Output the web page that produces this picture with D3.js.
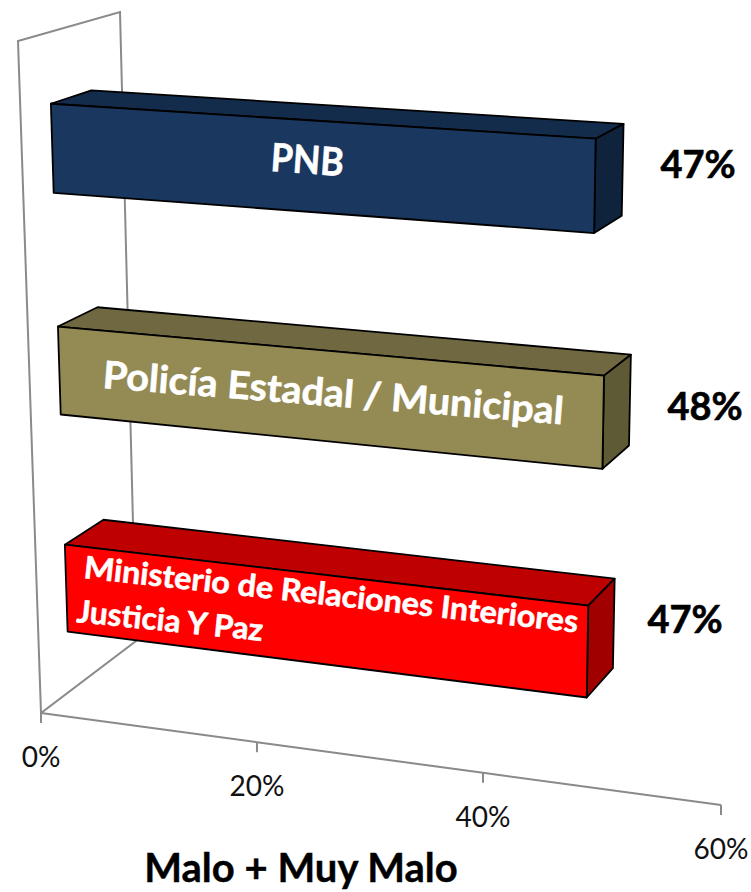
<!DOCTYPE html>
<html>
<head>
<meta charset="utf-8">
<script src="https://cdn.jsdelivr.net/npm/d3@7"></script>
<style>
html,body{margin:0;padding:0;background:#fff}
svg{display:block}
text{font-family:Lato,"Open Sans",sans-serif}
</style>
</head>
<body>
<svg id="c" width="751" height="892"></svg>
<script>
// ---- data ----
const categories = ["Ministerio de Relaciones Interiores Justicia Y Paz", "Policía Estadal / Municipal", "PNB"];
const values = [47, 48, 47];
const tickValues = [0, 20, 40, 60];
const axisTitle = "Malo + Muy Malo";

// ---- styles ----
const faceColors = [
  {front:"#ff0000", top:"#bf0000", side:"#a00000"},
  {front:"#948a54", top:"#6f6840", side:"#5f5a36"},
  {front:"#1a375f", top:"#142c4c", side:"#10233d"}
];
const labelLayout = [
  {lines:[{t:"Ministerio de Relaciones Interiores",x:83,y:578,a:6.3,w:497},{t:"Justicia Y Paz",x:76,y:622,a:5.8,w:187}],size:31},
  {lines:[{t:"Policía Estadal / Municipal",x:102,y:388,a:4.5,w:462}],size:38},
  {lines:[{t:"PNB",x:270,y:171,a:4,w:73}],size:39}
];
const valueLabelPos = [[685,633],[705,420],[698,178]];

// ---- projection: box corners of the 3D plot on screen ----
const corners = {
  fb0:[41,713], fb1:[721,805], ft0:[18,41], ft1:[740,82],
  bb0:[136,641], bb1:[777,726], bt0:[120,12], bt1:[801,49]
};
const xFrac = d3.scaleLinear().domain(tickValues).range([0,0.3176,0.65,1]);
const band = d3.scaleBand().domain(categories).range([-0.008,0.995]).paddingInner(0.6).paddingOuter(0.3);
// slight perspective compression of the vertical axis
const vWarp = d3.scaleLinear().domain([-0.008,0.4935,0.995]).range([-0.008,0.486,0.993]);
const lerp = (a,b,t)=>[a[0]+(b[0]-a[0])*t, a[1]+(b[1]-a[1])*t];
function project(val, v, w){
  const t = xFrac(val);
  const b0 = lerp(corners.fb0,corners.bb0,w), b1 = lerp(corners.fb1,corners.bb1,w);
  const t0 = lerp(corners.ft0,corners.bt0,w), t1 = lerp(corners.ft1,corners.bt1,w);
  return lerp(lerp(b0,b1,t), lerp(t0,t1,t), v);
}
const depthFront = 0.3, depthBack = 0.7;

const svg = d3.select("#c");
const path = d3.line();
const closed = pts => path(pts) + "Z";
const grey = "#8a8a8a";

// ---- wall and floor edge ----
svg.append("path")
  .attr("d", closed([project(0,0,0), project(0,1,0), project(0,1,1), project(0,0,1)]))
  .attr("fill","none").attr("stroke",grey).attr("stroke-width",2);

// ---- axis ----
const axis = svg.append("g").call(
  d3.axisBottom(xFrac).tickValues(tickValues).tickFormat(d=>d+"%").tickSize(10)
);
axis.select(".domain")
  .attr("d", path(tickValues.map(d=>project(d,0,0))))
  .attr("fill","none").attr("stroke",grey).attr("stroke-width",2);
axis.selectAll(".tick").attr("transform", d=>{const p=project(d,0,0);return `translate(${p[0]},${p[1]})`;});
axis.selectAll(".tick line").attr("stroke",grey).attr("stroke-width",2);
axis.selectAll(".tick text")
  .attr("y",54).attr("dy",0).attr("text-anchor","middle")
  .attr("fill","#111").style("font-size","28px").style("font-family","Lato,sans-serif");

// ---- bars ----
const bars = svg.append("g").selectAll("g").data(categories).join("g");
bars.each(function(cat,i){
  const g = d3.select(this), val = values[i];
  const v0 = vWarp(band(cat)), v1 = vWarp(band(cat) + band.bandwidth());
  const P = (x,v,w)=>project(x,v,w);
  const faces = [
    {pts:[P(0,v1,depthFront),P(val,v1,depthFront),P(val,v1,depthBack),P(0,v1,depthBack)],fill:faceColors[i].top},
    {pts:[P(val,v0,depthFront),P(val,v1,depthFront),P(val,v1,depthBack),P(val,v0,depthBack)],fill:faceColors[i].side},
    {pts:[P(0,v0,depthFront),P(val,v0,depthFront),P(val,v1,depthFront),P(0,v1,depthFront)],fill:faceColors[i].front}
  ];
  g.selectAll("path").data(faces).join("path")
    .attr("d",d=>closed(d.pts)).attr("fill",d=>d.fill)
    .attr("stroke","#000").attr("stroke-width",1.8).attr("stroke-linejoin","round");
  const L = labelLayout[i];
  L.lines.forEach(l=>{
    g.append("text").text(l.t)
      .attr("transform",`translate(${l.x},${l.y}) rotate(${l.a})`)
      .attr("textLength",l.w).attr("lengthAdjust","spacingAndGlyphs")
      .attr("fill","#fff").attr("stroke","#fff").attr("stroke-width",0.6)
      .attr("font-weight",700).style("font-size",L.size+"px");
  });
  g.append("text").text(val+"%")
    .attr("x",valueLabelPos[i][0]).attr("y",valueLabelPos[i][1])
    .attr("text-anchor","middle").attr("fill","#000").attr("stroke","#000").attr("stroke-width",0.6)
    .attr("font-weight",700).style("font-size","38px");
});

// ---- title ----
svg.append("text").text(axisTitle)
  .attr("x",301).attr("y",882).attr("text-anchor","middle")
  .attr("fill","#000").attr("stroke","#000").attr("stroke-width",0.4)
  .attr("font-weight",700).style("font-size","40px");
</script>
</body>
</html>
